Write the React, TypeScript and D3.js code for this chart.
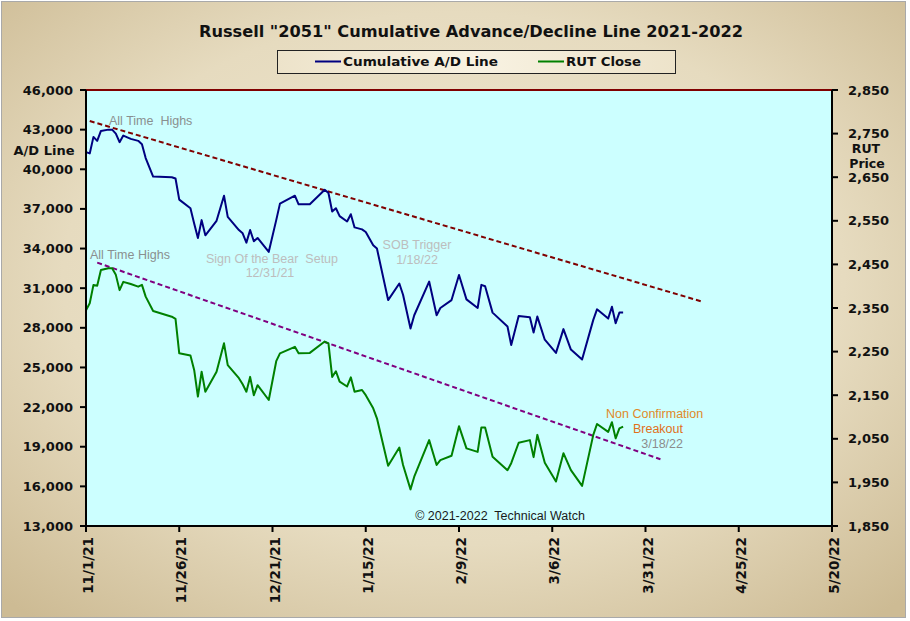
import React from 'react';
import * as d3 from 'd3';

// trading-day vertices
const dates = [
  '11/1/21', '11/2/21', '11/3/21', '11/4/21', '11/5/21', '11/7/21', '11/8/21', '11/9/21', '11/10/21', '11/11/21',
  '11/13/21', '11/15/21', '11/16/21', '11/17/21', '11/19/21', '11/24/21', '11/25/21', '11/26/21', '11/29/21', '11/30/21',
  '12/1/21', '12/2/21', '12/3/21', '12/6/21', '12/8/21', '12/9/21', '12/12/21', '12/13/21', '12/14/21', '12/15/21',
  '12/16/21', '12/17/21', '12/20/21', '12/22/21', '12/23/21', '12/27/21', '12/28/21', '12/31/21', '1/4/22', '1/5/22',
  '1/6/22', '1/7/22', '1/8/22', '1/10/22', '1/11/22', '1/12/22', '1/14/22', '1/15/22', '1/17/22', '1/18/22',
  '1/21/22', '1/24/22', '1/25/22', '1/27/22', '1/28/22', '2/1/22', '2/3/22', '2/4/22', '2/7/22', '2/9/22',
  '2/11/22', '2/14/22', '2/15/22', '2/16/22', '2/18/22', '2/22/22', '2/23/22', '2/25/22', '2/28/22', '3/1/22',
  '3/2/22', '3/4/22', '3/7/22', '3/9/22', '3/11/22', '3/14/22', '3/17/22', '3/18/22', '3/21/22', '3/22/22',
  '3/23/22', '3/24/22', '3/25/22',
];

const adLine = [
  41300, 41200, 42450, 42150, 42900, 43000, 43000, 42700, 42050, 42550,
  42300, 42150, 41900, 40850, 39450, 39400, 39300, 37700, 37050, 35900,
  34800, 36150, 35000, 36100, 38000, 36400, 35400, 35150, 34450, 35400,
  34550, 34800, 33750, 36150, 37400, 38000, 37350, 37350, 38450, 38200,
  36800, 37050, 36450, 36050, 36600, 35600, 35450, 35250, 34250, 34000,
  30100, 31350, 30500, 27950, 28950, 31500, 28950, 29500, 30100, 32000,
  30150, 29500, 31250, 31150, 29150, 28100, 26700, 28900, 28800, 27650,
  28850, 27100, 26100, 27900, 26350, 25600, 28600, 29400, 28700, 29600,
  28350, 29150, 29150,
];

const rutClose = [
  2345, 2361, 2403, 2401, 2437, 2441, 2441, 2426, 2391, 2410,
  2405, 2399, 2403, 2376, 2343, 2330, 2325, 2246, 2241, 2208,
  2147, 2204, 2158, 2204, 2269, 2219, 2189, 2175, 2158, 2192,
  2150, 2173, 2139, 2228, 2246, 2261, 2246, 2247, 2273, 2269,
  2192, 2205, 2181, 2170, 2191, 2158, 2162, 2150, 2120, 2097,
  1988, 2030, 1990, 1934, 1963, 2047, 1990, 2001, 2011, 2079,
  2028, 2020, 2076, 2076, 2009, 1978, 1994, 2041, 2047, 2008,
  2059, 1995, 1952, 2017, 1978, 1942, 2059, 2084, 2066, 2088,
  2051, 2074, 2078,
];

const adTicks = [13000, 16000, 19000, 22000, 25000, 28000, 31000, 34000, 37000, 40000, 43000, 46000];
const rutTicks = [1850, 1950, 2050, 2150, 2250, 2350, 2450, 2550, 2650, 2750, 2850];
const xTickLabels = ['11/1/21', '11/26/21', '12/21/21', '1/15/22', '2/9/22', '3/6/22', '3/31/22', '4/25/22', '5/20/22'];

// hand-drawn trend lines
const adTrendDates = ['11/2/21', '4/15/22'];
const adTrendValues = [43650, 30000];
const rutTrendDates = ['11/4/21', '4/4/22'];
const rutTrendValues = [2454, 2003];

const W = 910;
const H = 621;
const plot = { left: 86, right: 832, top: 90, bottom: 526 };

const parse = d3.timeParse('%m/%d/%y');
const tickFont = '"DejaVu Sans", Verdana, sans-serif';
const noteFont = '"Liberation Sans", Arial, sans-serif';
const pre = { whiteSpace: 'pre' as const };

const App: React.FC = () => {
  const x = d3.scaleTime()
    .domain([parse(xTickLabels[0])!, parse(xTickLabels[xTickLabels.length - 1])!])
    .range([plot.left, plot.right]);
  const yAD = d3.scaleLinear().domain([13000, 46000]).range([plot.bottom, plot.top]);
  const yRUT = d3.scaleLinear().domain([1850, 2850]).range([plot.bottom, plot.top]);

  const xs = dates.map(d => x(parse(d)!));
  const adPath = d3.line<number>().x((_, i) => xs[i]).y(v => yAD(v))(adLine) || '';
  const rutPath = d3.line<number>().x((_, i) => xs[i]).y(v => yRUT(v))(rutClose) || '';

  const adTrend = d3.line<number>()
    .x((_, i) => x(parse(adTrendDates[i])!))
    .y(v => yAD(v))(adTrendValues) || '';
  const rutTrend = d3.line<number>()
    .x((_, i) => x(parse(rutTrendDates[i])!))
    .y(v => yRUT(v))(rutTrendValues) || '';

  const fmt = d3.format(',');

  return (
    <svg width={W} height={H} style={{ position: 'absolute', left: 0, top: 0 }}>
      <defs>
        <radialGradient id="bg" cx="0.5" cy="0.45" r="0.72">
          <stop offset="0%" stopColor="#f1e9d4" />
          <stop offset="60%" stopColor="#e6dbbf" />
          <stop offset="100%" stopColor="#cdbb94" />
        </radialGradient>
        <linearGradient id="legendBg" x1="0" y1="0" x2="1" y2="0">
          <stop offset="0%" stopColor="#ede3ca" />
          <stop offset="50%" stopColor="#f8f2e2" />
          <stop offset="100%" stopColor="#ede3ca" />
        </linearGradient>
      </defs>

      <rect x={1.5} y={1.5} width={W - 6} height={H - 5} fill="url(#bg)" stroke="#a9a9a9" strokeWidth={1} />

      <text x={471} y={36.5} textAnchor="middle" fontFamily='"DejaVu Sans Condensed", Tahoma, sans-serif'
        fontWeight="bold" fontSize={16} fill="#111" textLength={544} lengthAdjust="spacingAndGlyphs">
        Russell "2051" Cumulative Advance/Decline Line 2021-2022
      </text>

      {/* legend */}
      <rect x={277.5} y={50.5} width={398} height={23} fill="url(#legendBg)" stroke="#222" strokeWidth={1} />
      <line x1={315} x2={341} y1={61.5} y2={61.5} stroke="#000080" strokeWidth={2} />
      <text x={343} y={66} fontFamily='"DejaVu Sans Condensed", Tahoma, sans-serif' fontWeight="bold"
        fontSize={13} fill="#111" textLength={155} lengthAdjust="spacingAndGlyphs">Cumulative A/D Line</text>
      <line x1={538} x2={564} y1={61.5} y2={61.5} stroke="#008000" strokeWidth={2} />
      <text x={566} y={66} fontFamily='"DejaVu Sans Condensed", Tahoma, sans-serif' fontWeight="bold"
        fontSize={13} fill="#111" textLength={75} lengthAdjust="spacingAndGlyphs">RUT Close</text>

      {/* plot area */}
      <rect x={plot.left} y={plot.top} width={plot.right - plot.left} height={plot.bottom - plot.top} fill="#ccffff" />
      <line x1={plot.left} x2={plot.right} y1={plot.top} y2={plot.top} stroke="#800000" strokeWidth={2} />

      {/* annotations */}
      <g fontFamily={noteFont} fontSize={12.5}>
        <text x={109} y={125} fill="#8a8f8f" style={pre}>All Time  Highs</text>
        <text x={90} y={259} fill="#8a8f8f">All Time Highs</text>
        <text x={272} y={263} textAnchor="middle" fill="#bdbdbd" style={pre}>Sign Of the Bear  Setup</text>
        <text x={270} y={277} textAnchor="middle" fill="#bdbdbd">12/31/21</text>
        <text x={417} y={249} textAnchor="middle" fill="#bdbdbd">SOB Trigger</text>
        <text x={417} y={264} textAnchor="middle" fill="#bdbdbd">1/18/22</text>
        <text x={606} y={418} fill="#e08a2a">Non Confirmation</text>
        <text x={683} y={433} textAnchor="end" fill="#e0701a">Breakout</text>
        <text x={683} y={448} textAnchor="end" fill="#8c8c8c">3/18/22</text>
        <text x={500} y={520} textAnchor="middle" fill="#1a1a1a" style={pre}>© 2021-2022  Technical Watch</text>
      </g>

      {/* trend lines */}
      <path d={adTrend} fill="none" stroke="#800000" strokeWidth={2} strokeDasharray="5,3" />
      <path d={rutTrend} fill="none" stroke="#800080" strokeWidth={2} strokeDasharray="5,3" />

      {/* series */}
      <path d={adPath} fill="none" stroke="#000080" strokeWidth={2} strokeLinejoin="round" />
      <path d={rutPath} fill="none" stroke="#008000" strokeWidth={2} strokeLinejoin="round" />

      {/* axes */}
      <line x1={plot.left} x2={plot.left} y1={plot.top} y2={plot.bottom + 1} stroke="#000" strokeWidth={2} />
      <line x1={plot.right} x2={plot.right} y1={plot.top} y2={plot.bottom + 1} stroke="#000" strokeWidth={2} />
      <line x1={plot.left - 1} x2={plot.right + 1} y1={plot.bottom} y2={plot.bottom} stroke="#000" strokeWidth={2} />

      <g fontFamily={tickFont} fontWeight="bold" fontSize={13} fill="#111">
        {adTicks.map(t => (
          <g key={'l' + t}>
            <line x1={plot.left - 6} x2={plot.left} y1={yAD(t)} y2={yAD(t)} stroke="#000" strokeWidth={2} />
            <text x={73} y={yAD(t) + 4.5} textAnchor="end">{fmt(t)}</text>
          </g>
        ))}
        {rutTicks.map(t => (
          <g key={'r' + t}>
            <line x1={plot.right} x2={plot.right + 6} y1={yRUT(t)} y2={yRUT(t)} stroke="#000" strokeWidth={2} />
            <text x={848} y={yRUT(t) + 4.5}>{fmt(t)}</text>
          </g>
        ))}
        {xTickLabels.map(l => {
          const px = x(parse(l)!);
          return (
            <g key={'x' + l}>
              <line x1={px} x2={px} y1={plot.bottom} y2={plot.bottom + 6} stroke="#000" strokeWidth={2} />
              <text transform={`translate(${px + 7},537) rotate(-90)`} textAnchor="end" fontSize={13.5}>{l}</text>
            </g>
          );
        })}
        <text x={44} y={155} textAnchor="middle">A/D Line</text>
        <text x={866} y={153} textAnchor="middle" fontSize={12.5}>RUT</text>
        <text x={867} y={168} textAnchor="middle" fontSize={12.5}>Price</text>
      </g>
    </svg>
  );
};

export default App;
